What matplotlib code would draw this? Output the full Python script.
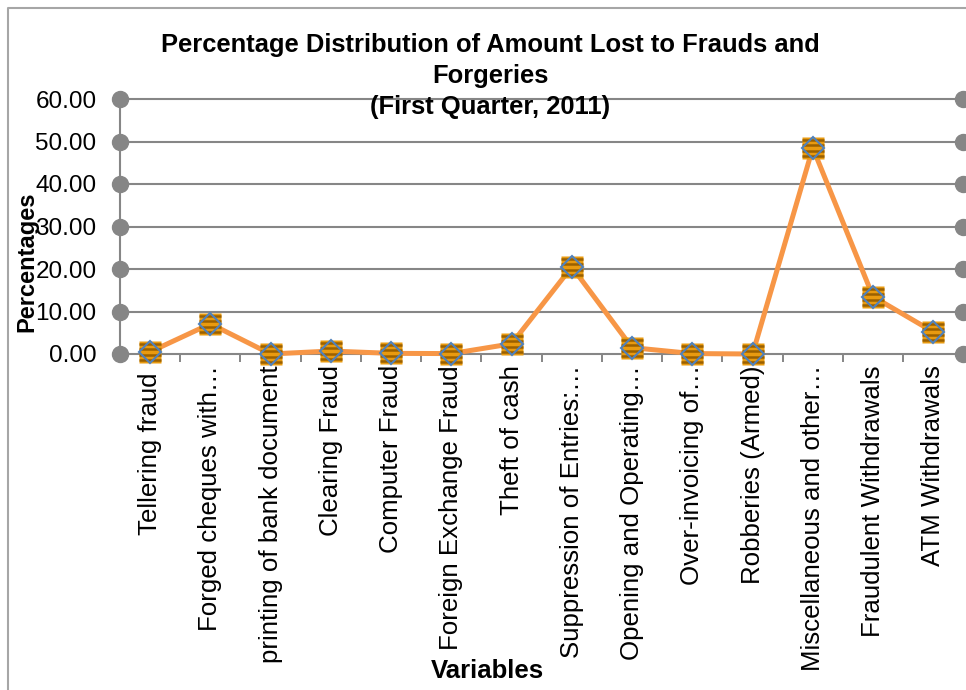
import matplotlib
matplotlib.use("Agg")
import matplotlib.pyplot as plt
from matplotlib.path import Path
from matplotlib.lines import Line2D

plt.rcParams['font.family'] = ['Liberation Sans', 'DejaVu Sans']

categories = ["Tellering fraud ",
              "Forged cheques with\u2026",
              "printing of bank document",
              "Clearing Fraud",
              "Computer Fraud",
              "Foreign Exchange Fraud",
              "Theft of cash",
              "Suppression of Entries:\u2026",
              "Opening and Operating\u2026",
              "Over-invoicing of\u2026",
              "Robberies (Armed)",
              "Miscellaneous and other\u2026",
              "Fraudulent Withdrawals",
              "ATM Withdrawals"]
percentages = [0.5, 7.1, 0.0, 0.7, 0.15, 0.1, 2.4, 20.5, 1.5, 0.1, 0.0, 48.5, 13.5, 5.2]
y_ticks = [0, 10, 20, 30, 40, 50, 60]

W, H = 966, 690
fig = plt.figure(figsize=(W / 100, H / 100), dpi=100)
ax = fig.add_axes([120 / W, 1 - 354 / H, (963.4 - 120) / W, (354 - 99) / H])

grey = "#868686"
x = list(range(len(categories)))

# gridlines with round ends
for v in y_ticks:
    ax.plot([-0.5, len(categories) - 0.5], [v, v], color=grey, lw=1.5,
            marker="o", ms=11.5, mfc=grey, mec=grey, clip_on=False, zorder=1)

# data line
ax.plot(x, percentages, color="#F79646", lw=3.6, zorder=3, clip_on=False)

# striped square markers with a diamond on top
stripes = Path([(-1, -0.75), (1, -0.75), (-1, -0.25), (1, -0.25),
                (-1, 0.25), (1, 0.25), (-1, 0.75), (1, 0.75)],
               [Path.MOVETO, Path.LINETO] * 4)
ax.plot(x, percentages, ls="none", marker="s", ms=16, mfc="#E89A10", mec="none",
        zorder=4, clip_on=False)
ax.plot(x, percentages, ls="none", marker=stripes, ms=16, mec="#9A6000", mew=1.8,
        zorder=5, clip_on=False)
ax.plot(x, percentages, ls="none", marker="D", ms=11, mfc="none", mec="#4F81BD",
        mew=1.5, zorder=6, clip_on=False)

ax.set_xlim(-0.5, len(categories) - 0.5)
ax.set_ylim(0, 60)
ax.set_yticks(y_ticks)
ax.set_yticklabels([f"{v:.2f}" for v in y_ticks])
ax.set_xticks(x)
ax.set_xticklabels(categories, rotation=90, va="top", ha="center")
ax.set_xticks([i + 0.5 for i in range(len(categories) - 1)], minor=True)

ax.tick_params(axis="y", length=0, pad=17, labelsize=17.5)
ax.tick_params(axis="x", which="major", length=0, pad=8, labelsize=18.6)
ax.tick_params(axis="x", which="minor", length=6, width=1.4, color=grey, direction="out")

for s in ["top", "right", "bottom"]:
    ax.spines[s].set_visible(False)
ax.spines["left"].set_color(grey)
ax.spines["left"].set_linewidth(1.5)
ax.patch.set_visible(False)

fig.text(490 / W, 1 - 33 / H,
         "Percentage Distribution of Amount Lost to Frauds and\nForgeries\n(First Quarter, 2011)",
         ha="center", va="top", fontsize=18.4, fontweight="bold", linespacing=1.37)
fig.text(27 / W, 1 - 262 / H, "Percentages", rotation=90, ha="center", va="center",
         fontsize=17, fontweight="bold")
fig.text(487 / W, 1 - 671 / H, "Variables", ha="center", va="center",
         fontsize=18.5, fontweight="bold")

# chart border
fig.add_artist(Line2D([8 / W, 8 / W, 1], [0, 1 - 8 / H, 1 - 8 / H], color="#A6A6A6", lw=1.5))

fig.savefig("out.png", dpi=100)
